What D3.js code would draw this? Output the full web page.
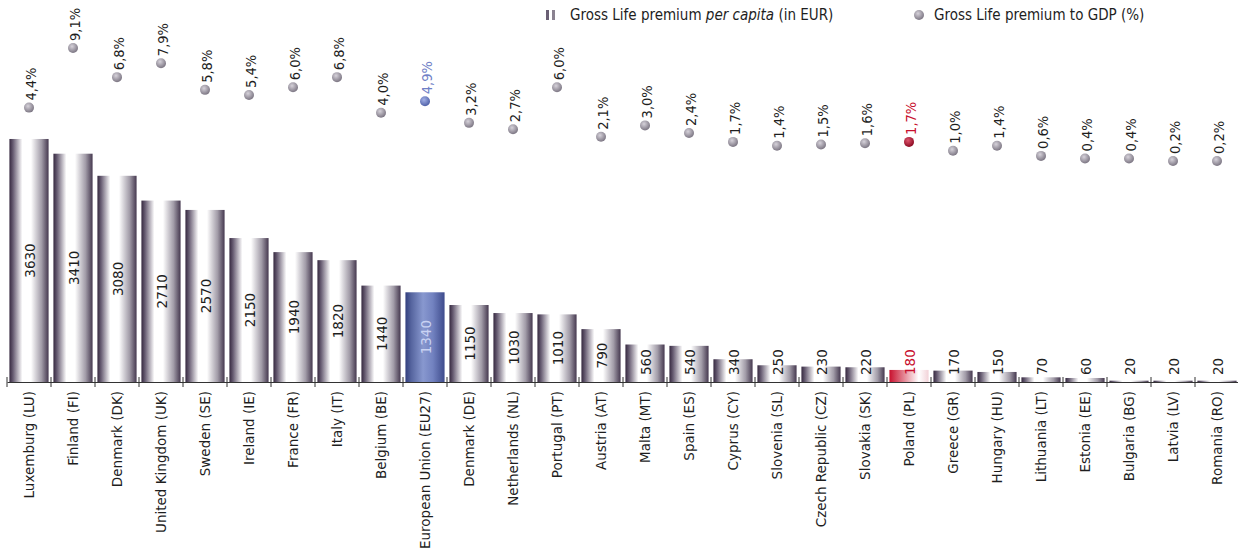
<!DOCTYPE html>
<html>
<head>
<meta charset="utf-8">
<script src="https://cdn.jsdelivr.net/npm/d3@7"></script>
<style>
  html, body { margin: 0; padding: 0; background: #fff; }
  svg text { font-family: "DejaVu Sans Condensed", "DejaVu Sans", sans-serif; fill: #1e1e1e; }
  svg text.wide { font-family: "DejaVu Sans", sans-serif; }
</style>
</head>
<body>
<svg id="chart"></svg>
<script>
const countries = ['Luxemburg (LU)', 'Finland (FI)', 'Denmark (DK)', 'United Kingdom (UK)', 'Sweden (SE)',
  'Ireland (IE)', 'France (FR)', 'Italy (IT)', 'Belgium (BE)', 'European Union (EU27)', 'Denmark (DE)',
  'Netherlands (NL)', 'Portugal (PT)', 'Austria (AT)', 'Malta (MT)', 'Spain (ES)', 'Cyprus (CY)',
  'Slovenia (SL)', 'Czech Republic (CZ)', 'Slovakia (SK)', 'Poland (PL)', 'Greece (GR)', 'Hungary (HU)',
  'Lithuania (LT)', 'Estonia (EE)', 'Bulgaria (BG)', 'Latvia (LV)', 'Romania (RO)'];
const premiumPerCapita = [3630, 3410, 3080, 2710, 2570, 2150, 1940, 1820, 1440, 1340, 1150, 1030, 1010,
  790, 560, 540, 340, 250, 230, 220, 180, 170, 150, 70, 60, 20, 20, 20];
const premiumToGdp = [4.4, 9.1, 6.8, 7.9, 5.8, 5.4, 6.0, 6.8, 4.0, 4.9, 3.2, 2.7, 6.0, 2.1, 3.0, 2.4,
  1.7, 1.4, 1.5, 1.6, 1.7, 1.0, 1.4, 0.6, 0.4, 0.4, 0.2, 0.2];
const legendLabels = ['Gross Life premium', 'per capita', '(in EUR)', 'Gross Life premium to GDP (%)'];
const euName = 'European Union (EU27)';
const plName = 'Poland (PL)';

const w = 1238, h = 553;
const baseY = 382;

const svg = d3.select('#chart').attr('width', w).attr('height', h);
const defs = svg.append('defs');

function barGradient(id, stops) {
  const g = defs.append('linearGradient').attr('id', id)
    .attr('x1', '0%').attr('x2', '100%').attr('y1', '0%').attr('y2', '0%');
  stops.forEach(s => g.append('stop').attr('offset', s[0]).attr('stop-color', s[1]));
}
barGradient('gBar', [['0%', '#35283f'], ['9%', '#665b71'], ['33%', '#ffffff'], ['55%', '#ffffff'],
  ['82%', '#a29ca8'], ['100%', '#45384f']]);
barGradient('gEu', [['0%', '#333f7e'], ['15%', '#56659f'], ['45%', '#8898cf'], ['70%', '#7282c0'], ['100%', '#3e4b8c']]);
barGradient('gPl', [['0%', '#c8102e'], ['35%', '#e27f8e'], ['75%', '#ffffff'], ['100%', '#f2d2d8']]);

function dotGradient(id, light, dark) {
  const g = defs.append('radialGradient').attr('id', id)
    .attr('cx', '40%').attr('cy', '35%').attr('r', '65%');
  g.append('stop').attr('offset', '0%').attr('stop-color', light);
  g.append('stop').attr('offset', '100%').attr('stop-color', dark);
}
dotGradient('dGray', '#d6d2da', '#7d7784');
dotGradient('dEu', '#a2b0e6', '#4f61a8');
dotGradient('dPl', '#e0566e', '#8c0a22');

const x = d3.scaleBand().domain(countries).range([7, 1239])
  .paddingInner(0.11).paddingOuter(0.055);
const yBar = d3.scaleLinear().domain([0, 4000]).range([baseY, 114.2]);
const yDot = d3.scaleLinear().domain([0, 10]).range([163.5, 36.5]);

const rows = countries.map((c, i) => ({ name: c, value: premiumPerCapita[i], gdp: premiumToGdp[i] }));
const fillOf = d => d.name === euName ? 'url(#gEu)' : d.name === plName ? 'url(#gPl)' : 'url(#gBar)';

// bars
svg.append('g').selectAll('rect')
  .data(rows).enter().append('rect')
  .attr('x', d => x(d.name))
  .attr('y', d => yBar(d.value))
  .attr('width', x.bandwidth())
  .attr('height', d => baseY - yBar(d.value))
  .attr('fill', fillOf);

// bar value labels
svg.append('g').selectAll('text')
  .data(rows).enter().append('text')
  .classed('wide', true)
  .attr('font-size', 13.5)
  .style('fill', d => d.name === euName ? '#c9d2f2' : d.name === plName ? '#c8102e' : '#1e1e1e')
  .attr('dominant-baseline', 'central')
  .each(function (d) {
    const cx = x(d.name) + x.bandwidth() / 2 + 1;
    const mid = (yBar(d.value) + baseY) / 2;
    const half = String(d.value).length * 4.3;
    const t = d3.select(this);
    if (mid + half > 375) {
      t.attr('text-anchor', 'start').attr('transform', `translate(${cx},375) rotate(-90)`);
    } else {
      t.attr('text-anchor', 'middle').attr('transform', `translate(${cx},${mid}) rotate(-90)`);
    }
  })
  .text(d => d.value);

// axis
const axis = svg.append('g').attr('transform', `translate(0,${baseY})`)
  .call(d3.axisBottom(x).tickSize(0).tickSizeOuter(0));
axis.select('.domain').attr('stroke', '#333').attr('stroke-width', 1.2);
axis.selectAll('.tick text')
  .classed('wide', true)
  .attr('font-size', 13.5)
  .attr('text-anchor', 'end')
  .attr('dy', null)
  .attr('dominant-baseline', 'central')
  .attr('transform', 'translate(0,9) rotate(-90)')
  .attr('y', 0).attr('x', 0)
  .style('fill', '#1e1e1e');

const edges = countries.map(c => x(c) - x.step() * x.paddingInner() / 2)
  .concat([x(countries[countries.length - 1]) + x.bandwidth() + x.step() * x.paddingInner() / 2]);
svg.append('g').selectAll('line')
  .data(edges).enter().append('line')
  .attr('x1', d => d).attr('x2', d => d)
  .attr('y1', baseY - 5).attr('y2', baseY + 5)
  .attr('stroke', '#333').attr('stroke-width', 1);

// dots
const dotG = svg.append('g');
dotG.selectAll('circle')
  .data(rows).enter().append('circle')
  .attr('cx', d => x(d.name) + x.bandwidth() / 2)
  .attr('cy', d => yDot(d.gdp))
  .attr('r', 5)
  .attr('fill', d => d.name === euName ? 'url(#dEu)' : d.name === plName ? 'url(#dPl)' : 'url(#dGray)');

dotG.selectAll('text')
  .data(rows).enter().append('text')
  .attr('font-size', 14.5)
  .attr('text-anchor', 'start')
  .attr('dominant-baseline', 'central')
  .style('fill', d => d.name === euName ? '#6f80c6' : d.name === plName ? '#c8102e' : '#1e1e1e')
  .attr('transform', d => `translate(${x(d.name) + x.bandwidth() / 2 + 2},${yDot(d.gdp) - 7}) rotate(-90)`)
  .text(d => d3.format('.1f')(d.gdp).replace('.', ',') + '%');

// legend
const leg = svg.append('g');
leg.append('rect').attr('x', 546).attr('y', 10).attr('width', 3).attr('height', 10).attr('fill', '#6a5f74');
leg.append('rect').attr('x', 552).attr('y', 10).attr('width', 3).attr('height', 10).attr('fill', '#8a8290');
const lt = leg.append('text').attr('x', 570).attr('y', 15).attr('dominant-baseline', 'central')
  .attr('font-size', 15);
lt.append('tspan').text(legendLabels[0] + ' ');
lt.append('tspan').attr('font-style', 'italic').text(legendLabels[1]);
lt.append('tspan').text(' ' + legendLabels[2]);
leg.append('circle').attr('cx', 919).attr('cy', 15).attr('r', 5).attr('fill', 'url(#dGray)');
leg.append('text').attr('x', 934).attr('y', 15).attr('dominant-baseline', 'central')
  .attr('font-size', 15).text(legendLabels[3]);
</script>
</body>
</html>
